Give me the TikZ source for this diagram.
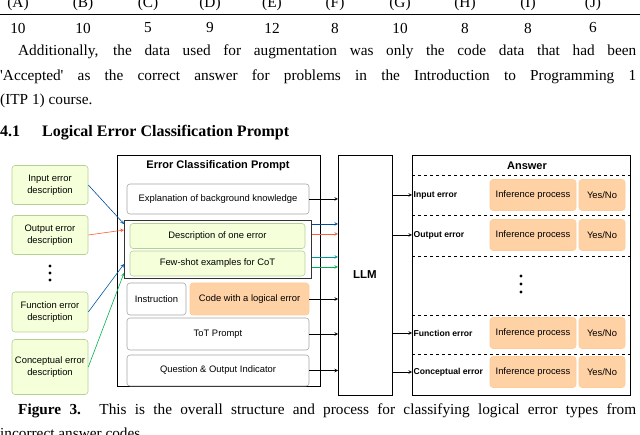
\documentclass[tikz,border=0pt]{standalone}
\usepackage{fontspec}
\setmainfont{Liberation Serif}
\newfontfamily\rawserif{Liberation Serif}[Ligatures=ResetAll]
\newfontfamily\dsans{Liberation Sans}
\begin{document}
\begin{tikzpicture}[x=1pt,y=-1pt,
 body/.style={font=\fontsize{15.3}{17}\selectfont,inner sep=0},
 dtext/.style={font=\dsans\fontsize{9.4}{11.5}\selectfont,align=center},
 wbox/.style={draw=gray!70,rounded corners=3pt,fill=white,line width=0.6pt,dtext},
 gbox/.style={draw=green!30!lime!40!gray!60,fill=green!25!yellow!15!white,rounded corners=3pt,line width=0.6pt,dtext},
 obox/.style={draw=orange!40,fill=orange!35,rounded corners=3pt,line width=0.6pt,dtext},
 arr/.style={->,>=stealth,line width=0.6pt},
 dl/.style={dashed,line width=0.7pt}]
\useasboundingbox (0,0) rectangle (640,435);
% table remnants
\draw[line width=0.6pt] (0,14) -- (640,14);
\foreach \x/\a/\b in {18/A/10,83/B/10,148/C/5,210/D/9,272/E/12,335/F/8,400/G/10,465/H/8,528/I/8,593/J/6}{
 \node[body] (h\a) at (\x,4) {(\a)};
 \node[body] (n\a) at (\x,28) {\b};}
\node[body,anchor=west] (p1) at (18,52) {\makebox[618pt][s]{Additionally, the data used for augmentation was only the code data that had been}};
\node[body,anchor=west] (p2) at (0,77) {\makebox[636pt][s]{{\rawserif'}Accepted{\rawserif'} as the correct answer for problems in the Introduction to Programming 1}};
\node[body,anchor=west] (p3) at (0,101) {(ITP 1) course.};
\node[body,anchor=west,font=\bfseries\fontsize{16}{18}\selectfont] (sec) at (0,133) {4.1\hspace{22pt}Logical Error Classification Prompt};
\node[body,anchor=west] (c1) at (18,411) {\makebox[618pt][s]{\textbf{Figure 3.} This is the overall structure and process for classifying logical error types from}};
\node[body,anchor=west] (c2) at (0,433) {incorrect answer codes.};
% left boxes
\node[gbox,minimum width=76,minimum height=39] (in) at (50,185) {Input error\\description};
\node[gbox,minimum width=76,minimum height=39] (out) at (50,235) {Output error\\description};
\node[gbox,minimum width=76,minimum height=40] (fn) at (50,312) {Function error\\description};
\node[gbox,minimum width=76,minimum height=55,inner sep=1pt] (cn) at (50,367) {Conceptual error\\description};
\foreach \y in {266,273,280} \fill (50,\y) circle (1.6);
% prompt
\node[draw,line width=0.8pt,minimum width=203,minimum height=231,anchor=north west] (pr) at (117,155) {};
\node[dtext,font=\dsans\bfseries\fontsize{11}{12}\selectfont] (prt) at (218,166) {Error Classification Prompt};
\node[wbox,minimum width=182,minimum height=30,inner sep=1pt] (ex) at (218,199) {Explanation of background knowledge};
\node[draw=black!80,line width=1pt,minimum width=187,minimum height=58,anchor=north west] (grp) at (124,220) {};
\node[gbox,minimum width=175,minimum height=25] (de) at (217.5,236) {Description of one error};
\node[gbox,minimum width=175,minimum height=25] (fs) at (217.5,263.5) {Few-shot examples for CoT};
\node[wbox,minimum width=59,minimum height=32,inner sep=1pt] (ins) at (156.5,299) {Instruction};
\node[obox,minimum width=119,minimum height=32,inner sep=1pt] (code) at (249.5,299) {Code with a logical error};
\node[wbox,minimum width=182,minimum height=32] (tot) at (218,334) {ToT Prompt};
\node[wbox,minimum width=182,minimum height=31] (qo) at (218,370.5) {Question \& Output Indicator};
% LLM
\node[draw,line width=0.8pt,minimum width=54,minimum height=240,anchor=north west] (llm) at (338,155) {};
\node[font=\dsans\bfseries\fontsize{11.5}{12}\selectfont] (llmt) at (365,275) {LLM};
% answer
\node[draw,line width=0.8pt,minimum width=218,minimum height=240,anchor=north west] (ans) at (412,155) {};
\node[font=\dsans\bfseries\fontsize{11}{12}\selectfont] (anst) at (527,166) {Answer};
\foreach \y in {175,215,256,315,354} \draw[dl] (412,\y) -- (630,\y);
\foreach \n/\y/\t in {a/195/Input error,b/235/Output error,c/333/Function error,d/372/Conceptual error}{
 \node[dtext,font=\dsans\bfseries\fontsize{8.6}{10}\selectfont,anchor=west,inner sep=0.5pt] (l\n) at (413,\y) {\t};
 \node[obox,minimum width=86,minimum height=31,inner sep=1pt] (ip\n) at (533,\y) {Inference process};
 \node[obox,minimum width=46,minimum height=31,inner sep=1pt] (yn\n) at (602,\y) {Yes/No};
 \coordinate (s\n) at (392,\y);
 \draw[arr] (s\n) -- (s\n -| ans.west);}
\foreach \y in {276,284,292} \fill (521,\y) circle (1.6);
% prompt to LLM
\draw[arr] (ex.east) -- (ex.east -| llm.west);
\draw[arr,color=blue!50!cyan!60!black] (grp.east |- 0,224) -- (llm.west |- 0,224);
\draw[arr,color=red!60!orange!80] (grp.east |- 0,234) -- (llm.west |- 0,234);
\draw[arr,color=teal!80!cyan] (grp.east |- 0,257) -- (llm.west |- 0,257);
\draw[arr,color=teal!60!green] (grp.east |- 0,267) -- (llm.west |- 0,267);
\draw[arr] (code.east) -- (code.east -| llm.west);
\draw[arr] (tot.east) -- (tot.east -| llm.west);
\draw[arr] (qo.east) -- (qo.east -| llm.west);
% left arrows
\draw[arr,color=blue!50!cyan!60!black] (in.east) -- (grp.west |- 0,224);
\draw[arr,color=red!60!orange!80] (out.east) -- (grp.west |- 0,230);
\draw[arr,color=teal!70!blue] (fn.east) -- (grp.west |- 0,264);
\draw[arr,color=teal!60!green] (cn.east) -- (grp.west |- 0,273);
\end{tikzpicture}
\end{document}
